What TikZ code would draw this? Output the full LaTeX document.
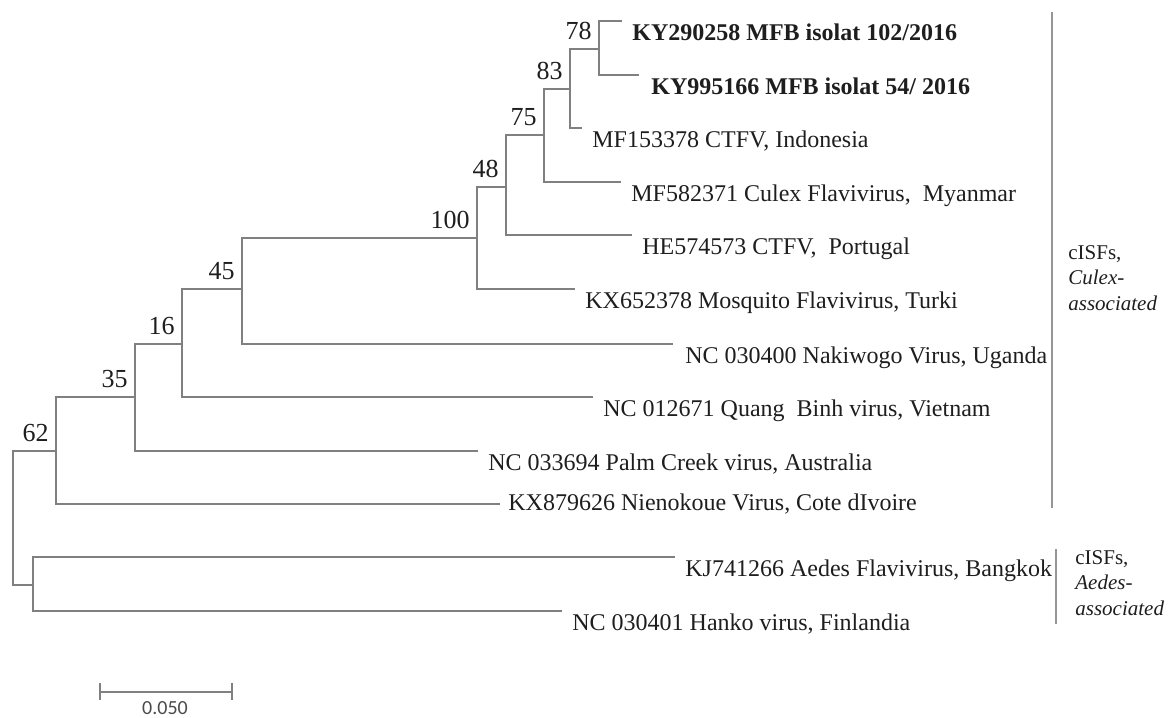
\documentclass[tikz,border=0pt]{standalone}
\usepackage{fontspec}
\setmainfont{Liberation Serif}
\newfontfamily\scalebarfont{Carlito}
\definecolor{linegray}{RGB}{128,128,128}
\definecolor{bargray}{RGB}{150,150,150}
\definecolor{textdark}{RGB}{30,30,30}
\begin{document}
\begin{tikzpicture}[x=0.5pt,y=-0.5pt,
  branch/.style={draw=linegray, line width=1.25pt},
  groupbar/.style={draw=bargray, line width=1.3pt},
  leaflabel/.style={anchor=base west, inner sep=0pt, xshift=5pt, yshift=-9.5pt,
    font=\fontsize{12}{14}\selectfont, text=textdark},
  boot/.style={anchor=base east, inner sep=0pt, xshift=-3.5pt, yshift=5pt,
    font=\fontsize{13}{15}\selectfont, text=textdark},
  sidelabel/.style={anchor=base west, inner sep=0pt, align=left,
    font=\fontsize{10.5}{12.75}\selectfont, text=textdark},
  scalelabel/.style={anchor=base, inner sep=0pt,
    font=\scalebarfont\fontsize{10}{12}\selectfont, text=textdark!80}]
\useasboundingbox (0,0) rectangle (1175,718);

% internal nodes
\coordinate (root) at (13,518);
\coordinate (n62) at (56,451);
\coordinate (n35) at (135,397);
\coordinate (n16) at (182,344);
\coordinate (n45) at (242,289);
\coordinate (n100) at (477,238);
\coordinate (n48) at (506,187);
\coordinate (n75) at (544,135);
\coordinate (n83) at (570,89);
\coordinate (n78) at (599,49);
\coordinate (nA) at (33,585);
% leaf tips
\coordinate (t1) at (622,21);
\coordinate (t2) at (639,75);
\coordinate (t3) at (582,128);
\coordinate (t4) at (621,182);
\coordinate (t5) at (632,235);
\coordinate (t6) at (575,289);
\coordinate (t7) at (673,344);
\coordinate (t8) at (593,397);
\coordinate (t9) at (478,451);
\coordinate (t10) at (500,504);
\coordinate (t11) at (675,557);
\coordinate (t12) at (562,611);

% branches
\draw[branch] (root) |- (n62);
\draw[branch] (root) |- (nA);
\draw[branch] (n62) |- (n35);
\draw[branch] (n62) |- (t10);
\draw[branch] (n35) |- (n16);
\draw[branch] (n35) |- (t9);
\draw[branch] (n16) |- (n45);
\draw[branch] (n16) |- (t8);
\draw[branch] (n45) |- (n100);
\draw[branch] (n45) |- (t7);
\draw[branch] (n100) |- (n48);
\draw[branch] (n100) |- (t6);
\draw[branch] (n48) |- (n75);
\draw[branch] (n48) |- (t5);
\draw[branch] (n75) |- (n83);
\draw[branch] (n75) |- (t4);
\draw[branch] (n83) |- (n78);
\draw[branch] (n83) |- (t3);
\draw[branch] (n78) |- (t1);
\draw[branch] (n78) |- (t2);
\draw[branch] (nA) |- (t11);
\draw[branch] (nA) |- (t12);

% bootstrap values
\node[boot] (b78) at (n78) {78};
\node[boot] (b83) at (n83) {83};
\node[boot] (b75) at (n75) {75};
\node[boot] (b48) at (n48) {48};
\node[boot] (b100) at (n100) {100};
\node[boot] (b45) at (n45) {45};
\node[boot] (b16) at (n16) {16};
\node[boot] (b35) at (n35) {35};
\node[boot] (b62) at (n62) {62};

% leaf labels (xshift/yshift add to the style's shifts)
\node[leaflabel] (l1) at (t1) {\textbf{KY290258 MFB isolat 102/2016}};
\node[leaflabel, xshift=1pt] (l2) at (t2) {\textbf{KY995166 MFB isolat 54/ 2016}};
\node[leaflabel] (l3) at (t3) {MF153378 CTFV, Indonesia};
\node[leaflabel] (l4) at (t4) {MF582371 Culex Flavivirus,~ Myanmar};
\node[leaflabel] (l5) at (t5) {HE574573 CTFV,~ Portugal};
\node[leaflabel] (l6) at (t6) {KX652378 Mosquito Flavivirus, Turki};
\node[leaflabel, xshift=1pt] (l7) at (t7) {NC 030400 Nakiwogo Virus, Uganda};
\node[leaflabel] (l8) at (t8) {NC 012671 Quang~~Binh virus, Vietnam};
\node[leaflabel] (l9) at (t9) {NC 033694 Palm Creek virus, Australia};
\node[leaflabel, xshift=-1pt, yshift=6.5pt] (l10) at (t10) {KX879626 Nienokoue Virus, Cote dIvoire};
\node[leaflabel] (l11) at (t11) {KJ741266 Aedes Flavivirus, Bangkok};
\node[leaflabel] (l12) at (t12) {NC 030401 Hanko virus, Finlandia};

% group bars and labels
\coordinate (cu1) at (1052,12);
\coordinate (cu2) at (1052,508);
\coordinate (ae1) at (1056,549);
\coordinate (ae2) at (1056,624);
\draw[groupbar] (cu1) -- (cu2);
\draw[groupbar] (ae1) -- (ae2);
\node[sidelabel] (culex) at (1068,310) {cISFs,\\\textit{Culex-}\\\textit{associated}};
\node[sidelabel] (aedes) at (1075,615) {cISFs,\\\textit{Aedes-}\\\textit{associated}};

% scale bar
\coordinate (s1) at (100,692);
\coordinate (s2) at (232,692);
\draw[branch] (s1) -- (s2);
\draw[branch] (s1) ++(0,-9) -- ++(0,17);
\draw[branch] (s2) ++(0,-9) -- ++(0,17);
\node[scalelabel] (sl) at (165,714) {0.050};
\end{tikzpicture}
\end{document}
